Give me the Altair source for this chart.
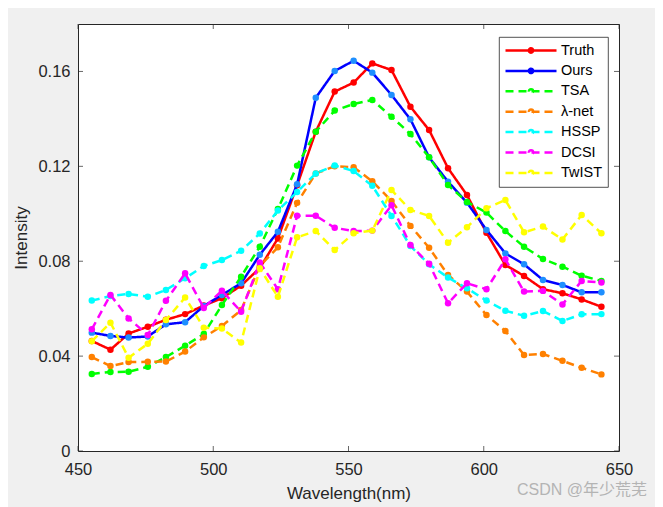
import altair as alt
import pandas as pd

# ---- data ----
wavelengths = [455.1, 462.0, 468.7, 475.8, 482.5, 489.6, 496.5, 503.2, 510.3, 517.2,
               523.9, 531.0, 537.9, 544.9, 551.9, 558.8, 565.9, 572.9, 579.8, 586.8,
               593.8, 601.0, 608.0, 614.9, 621.9, 629.1, 636.2, 643.5]

truth = [0.0464, 0.0427, 0.0495, 0.0524, 0.0553, 0.0577, 0.0613, 0.0644, 0.0697, 0.0771,
         0.0896, 0.1120, 0.1346, 0.1515, 0.1553, 0.1634, 0.1606, 0.1451, 0.1353, 0.1192,
         0.1079, 0.0920, 0.0784, 0.0738, 0.0682, 0.0665, 0.0639, 0.0608]
ours = [0.0499, 0.0485, 0.0478, 0.0483, 0.0534, 0.0543, 0.0611, 0.0658, 0.0707, 0.0827,
        0.0924, 0.1124, 0.1489, 0.1602, 0.1645, 0.1595, 0.1501, 0.1398, 0.1238, 0.1135,
        0.1047, 0.0932, 0.0833, 0.0787, 0.0721, 0.0700, 0.0669, 0.0669]
tsa = [0.0325, 0.0333, 0.0334, 0.0355, 0.0396, 0.0444, 0.0493, 0.0615, 0.0735, 0.0861,
       0.1020, 0.1203, 0.1346, 0.1435, 0.1463, 0.1480, 0.1409, 0.1336, 0.1238, 0.1121,
       0.1050, 0.1005, 0.0927, 0.0861, 0.0809, 0.0777, 0.0739, 0.0717]
lambda_net = [0.0396, 0.0358, 0.0375, 0.0376, 0.0377, 0.0419, 0.0479, 0.0527, 0.0594, 0.0780,
              0.0859, 0.1046, 0.1170, 0.1200, 0.1196, 0.1137, 0.1054, 0.0949, 0.0857, 0.0742,
              0.0672, 0.0573, 0.0506, 0.0405, 0.0409, 0.0380, 0.0351, 0.0323]
hssp = [0.0634, 0.0653, 0.0662, 0.0650, 0.0679, 0.0728, 0.0780, 0.0805, 0.0844, 0.0917,
        0.1014, 0.1092, 0.1170, 0.1204, 0.1180, 0.1118, 0.0991, 0.0864, 0.0787, 0.0731,
        0.0686, 0.0634, 0.0591, 0.0570, 0.0590, 0.0548, 0.0576, 0.0577]
dcsi = [0.0513, 0.0658, 0.0559, 0.0489, 0.0633, 0.0749, 0.0603, 0.0676, 0.0587, 0.0795,
        0.0682, 0.0992, 0.0992, 0.0941, 0.0927, 0.0929, 0.1036, 0.0868, 0.0789, 0.0623,
        0.0707, 0.0682, 0.0808, 0.0672, 0.0675, 0.0618, 0.0717, 0.0710]
twist = [0.0463, 0.0541, 0.0393, 0.0452, 0.0552, 0.0647, 0.0520, 0.0516, 0.0457, 0.0770,
         0.0650, 0.0901, 0.0927, 0.0847, 0.0918, 0.0929, 0.1100, 0.1016, 0.0991, 0.0878,
         0.0943, 0.1023, 0.1058, 0.0922, 0.0946, 0.0892, 0.0995, 0.0918]

methods = ["Truth", "Ours", "TSA", "λ-net", "HSSP", "DCSI", "TwIST"]
series = [truth, ours, tsa, lambda_net, hssp, dcsi, twist]
line_colors = ["#ff0000", "#0000ff", "#00ff00", "#ff8000", "#00ffff", "#ff00ff", "#ffff00"]
marker_colors = ["#ff0000", "#1e8fff", "#00ff00", "#ff8000", "#00ffff", "#ff00ff", "#ffff00"]
dashes = [[1, 0], [1, 0], [8, 5], [8, 5], [8, 5], [8, 5], [8, 5]]

x_ticks = [450, 500, 550, 600, 650]
y_ticks = [0, 0.04, 0.08, 0.12, 0.16]
watermark = ["CSDN @年少荒芜"]

FONT = "Liberation Sans, Arial, Helvetica, sans-serif"
TXT = "#262626"

rows = []
for m, vals in zip(methods, series):
    for w, v in zip(wavelengths, vals):
        rows.append({"method": m, "wavelength": w, "intensity": v})
df = pd.DataFrame(rows)

xscale = alt.Scale(domain=[450, 650], nice=False, zero=False)
yscale = alt.Scale(domain=[0, 0.18], nice=False)

legend_path = ("M-1,0L1,0M-0.085,0A0.085,0.085,0,1,1,0.085,0"
               "A0.085,0.085,0,1,1,-0.085,0Z")
legend = alt.Legend(
    title=None, orient="none", legendX=421, legendY=13,
    symbolType=legend_path, symbolSize=2601, symbolStrokeWidth=2.5,
    labelFontSize=14.5, labelFont=FONT, labelColor="#000000", labelOffset=3,
    labelExpr="datum.label + '\u00a0\u00a0\u00a0\u00a0\u00a0\u00a0'",
    padding=5, clipHeight=17, rowPadding=3.4,
    fillColor="white", strokeColor="#262626",
)

color_enc = alt.Color("method:N", scale=alt.Scale(domain=methods, range=line_colors),
                      sort=methods, legend=legend)
dash_enc = alt.StrokeDash("method:N", scale=alt.Scale(domain=methods, range=dashes),
                          sort=methods, legend=legend)

x_axis = alt.Axis(values=x_ticks, title="Wavelength(nm)", ticks=False, domain=False,
                  grid=False, labelFontSize=16.5, labelFont=FONT, labelColor=TXT,
                  labelPadding=10, labelFlush=False, titleFont=FONT, titleFontSize=17,
                  titleFontWeight="normal", titleColor=TXT, titlePadding=8)
y_axis = alt.Axis(values=y_ticks, title="Intensity", ticks=False, domain=False,
                  grid=False, labelFontSize=16.5, labelFont=FONT, labelColor=TXT,
                  labelPadding=8, labelFlush=False,
                  labelExpr="datum.value == 0 ? '0' : format(datum.value, '.2f')",
                  titleFont=FONT, titleFontSize=17, titleFontWeight="normal",
                  titleColor=TXT, titlePadding=7)

layers = []
for i, m in enumerate(methods):
    sub = df[df["method"] == m]
    line = alt.Chart(sub).mark_line(strokeWidth=2.5).encode(
        x=alt.X("wavelength:Q", scale=xscale, axis=x_axis),
        y=alt.Y("intensity:Q", scale=yscale, axis=y_axis),
        color=color_enc,
        strokeDash=dash_enc,
    )
    pts = alt.Chart(sub).mark_circle(size=42, opacity=1).encode(
        x=alt.X("wavelength:Q", scale=xscale),
        y=alt.Y("intensity:Q", scale=yscale),
        color=alt.value(marker_colors[i]),
    )
    layers += [line, pts]

# inward tick marks on all four sides
xt = pd.DataFrame({"t": x_ticks})
yt = pd.DataFrame({"t": y_ticks})
tick_style = dict(color=TXT, thickness=1, size=5)
ticks_bottom = alt.Chart(xt).mark_tick(orient="vertical", yOffset=-2.5, **tick_style).encode(
    x=alt.X("t:Q", scale=xscale), y=alt.datum(0, scale=yscale))
ticks_top = alt.Chart(xt).mark_tick(orient="vertical", yOffset=2.5, **tick_style).encode(
    x=alt.X("t:Q", scale=xscale), y=alt.datum(0.18, scale=yscale))
ticks_left = alt.Chart(yt).mark_tick(orient="horizontal", xOffset=2.5, **tick_style).encode(
    y=alt.Y("t:Q", scale=yscale), x=alt.datum(450, scale=xscale))
ticks_right = alt.Chart(yt).mark_tick(orient="horizontal", xOffset=-2.5, **tick_style).encode(
    y=alt.Y("t:Q", scale=yscale), x=alt.datum(650, scale=xscale))

wm = alt.Chart(pd.DataFrame({"label": watermark})).mark_text(
    align="right", baseline="middle", fontSize=16, color="#b4b4b4",
    font="Liberation Sans, Noto Sans CJK SC, sans-serif",
).encode(x=alt.value(569), y=alt.value(466), text="label:N")

chart = alt.layer(*layers, ticks_bottom, ticks_top, ticks_left, ticks_right, wm).properties(
    width=541, height=427,
    background="#f0f0f0",
    autosize=alt.AutoSizeParams(type="none"),
    padding={"left": 70, "top": 16, "right": 36, "bottom": 64},
).configure_view(
    fill="white", stroke=TXT, strokeWidth=1,
).configure_legend(strokeWidth=0.8)

chart.save("out.html", embed_options={"renderer": "svg", "actions": False})
